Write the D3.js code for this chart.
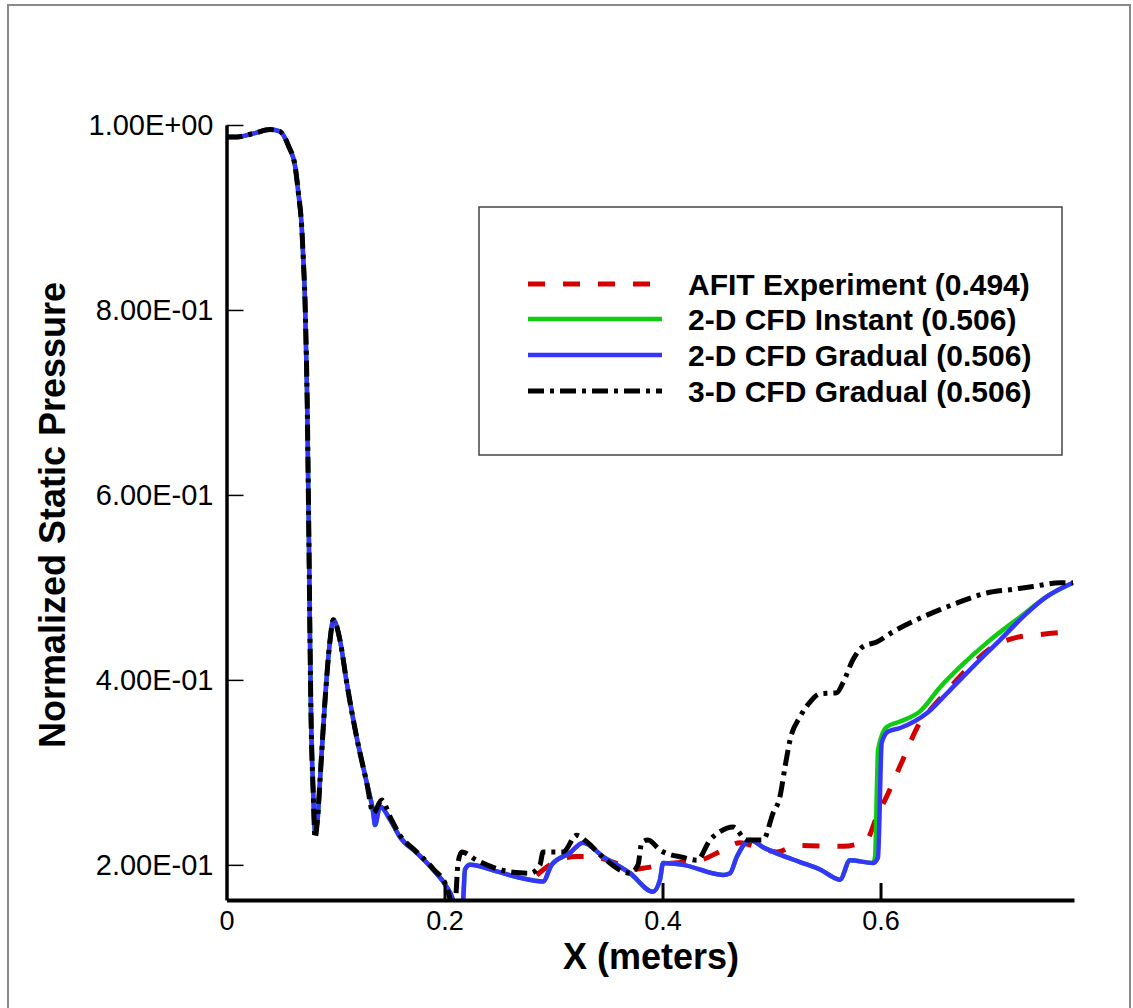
<!DOCTYPE html>
<html><head><meta charset="utf-8">
<script src="https://cdn.jsdelivr.net/npm/d3@7"></script>
<style>body{margin:0;background:#fff}svg{display:block}</style>
</head><body>
<svg id="c" width="1133" height="1008"></svg>
<script>
// ---- data ----
const yMajorTicks = [0.2, 0.4, 0.6, 0.8, 1.0];
const yMinorTicks = [0.25, 0.3, 0.35, 0.45, 0.5, 0.55, 0.65, 0.7, 0.75, 0.85, 0.9, 0.95];
const xMajorTicks = [0, 0.2, 0.4, 0.6];
const xMinorTicks = [0.05, 0.1, 0.15, 0.25, 0.3, 0.35, 0.45, 0.5, 0.55, 0.65, 0.7, 0.75];
const xTickLabels = ["0", "0.2", "0.4", "0.6"];

const seriesNames = ["AFIT Experiment (0.494)", "2-D CFD Instant (0.506)", "2-D CFD Gradual (0.506)", "3-D CFD Gradual (0.506)"];

// 2-D CFD (shared by Instant and Gradual up to x ~ 0.593)
const cfd2dX = [0, 0.009, 0.025, 0.040, 0.049, 0.057, 0.063, 0.066, 0.069, 0.0705, 0.072, 0.074, 0.0757, 0.0766, 0.0775, 0.0795, 0.0812, 0.0835, 0.0858, 0.0904, 0.095, 0.098, 0.1041, 0.1103, 0.1194, 0.1286, 0.1347, 0.1362, 0.1408, 0.150, 0.1592, 0.1745, 0.1894, 0.2020, 0.2078, 0.2096, 0.2130, 0.2170, 0.2188, 0.2234, 0.2479, 0.2693, 0.2904, 0.2983, 0.3151, 0.3271, 0.3454, 0.3702, 0.3913, 0.3977, 0.4005, 0.4188, 0.4555, 0.4619, 0.4683, 0.4803, 0.4922, 0.5078, 0.5261, 0.5445, 0.5628, 0.5720, 0.5931];
const cfd2dY = [0.987, 0.987, 0.991, 0.995, 0.993, 0.977, 0.955, 0.926, 0.890, 0.854, 0.811, 0.703, 0.541, 0.443, 0.364, 0.280, 0.236, 0.248, 0.292, 0.378, 0.443, 0.465, 0.443, 0.397, 0.338, 0.289, 0.256, 0.243, 0.263, 0.249, 0.230, 0.213, 0.195, 0.176, 0.162, 0.150, 0.150, 0.162, 0.195, 0.200, 0.193, 0.186, 0.182, 0.200, 0.213, 0.224, 0.209, 0.191, 0.171, 0.184, 0.202, 0.200, 0.189, 0.191, 0.209, 0.227, 0.219, 0.211, 0.203, 0.195, 0.184, 0.205, 0.202];
const instantTailX = [0.5950, 0.5968, 0.5977, 0.6057, 0.6179, 0.6362, 0.6546, 0.6729, 0.7004, 0.7280, 0.7525, 0.7766];
const instantTailY = [0.209, 0.289, 0.324, 0.349, 0.355, 0.366, 0.392, 0.414, 0.443, 0.468, 0.490, 0.505];
const gradualTailX = [0.5977, 0.6011, 0.6069, 0.6179, 0.6424, 0.6638, 0.6913, 0.7096, 0.7341, 0.7525, 0.7766];
const gradualTailY = [0.208, 0.332, 0.344, 0.348, 0.364, 0.389, 0.422, 0.443, 0.472, 0.490, 0.505];

// 3-D CFD Gradual
const cfd3dX = [0, 0.009, 0.025, 0.040, 0.049, 0.057, 0.063, 0.066, 0.069, 0.0705, 0.072, 0.074, 0.0757, 0.0766, 0.0775, 0.0795, 0.0812, 0.0835, 0.0858, 0.0904, 0.095, 0.098, 0.1041, 0.1103, 0.1194, 0.1286, 0.1347, 0.1424, 0.150, 0.1592, 0.1745, 0.1894, 0.2020, 0.2060, 0.2095, 0.2124, 0.2158, 0.2295, 0.2628, 0.2784, 0.2876, 0.2904, 0.3087, 0.3213, 0.3305, 0.3454, 0.3702, 0.3775, 0.3809, 0.3867, 0.3977, 0.4188, 0.4317, 0.4436, 0.4528, 0.4647, 0.4772, 0.4922, 0.5014, 0.5078, 0.5124, 0.5170, 0.5261, 0.5353, 0.5445, 0.5598, 0.5656, 0.5748, 0.5839, 0.5965, 0.6115, 0.6332, 0.6546, 0.6699, 0.6974, 0.7216, 0.7399, 0.7647, 0.7766];
const cfd3dY = [0.987, 0.987, 0.991, 0.995, 0.993, 0.977, 0.955, 0.926, 0.890, 0.854, 0.811, 0.703, 0.541, 0.443, 0.364, 0.280, 0.229, 0.250, 0.292, 0.378, 0.443, 0.465, 0.443, 0.397, 0.338, 0.289, 0.256, 0.270, 0.252, 0.232, 0.214, 0.196, 0.176, 0.160, 0.155, 0.202, 0.214, 0.205, 0.192, 0.191, 0.200, 0.214, 0.214, 0.232, 0.225, 0.208, 0.191, 0.200, 0.224, 0.227, 0.216, 0.208, 0.205, 0.227, 0.236, 0.241, 0.227, 0.227, 0.256, 0.274, 0.306, 0.335, 0.360, 0.376, 0.385, 0.386, 0.397, 0.422, 0.436, 0.441, 0.452, 0.465, 0.476, 0.483, 0.494, 0.498, 0.501, 0.505, 0.505];

// AFIT Experiment
const afitX = [0.2846, 0.2995, 0.3213, 0.3335, 0.3546, 0.3729, 0.3855, 0.4039, 0.4344, 0.4555, 0.4711, 0.4894, 0.5048, 0.5231, 0.5656, 0.5873, 0.5965, 0.6057, 0.6206, 0.6362, 0.6482, 0.6638, 0.6849, 0.7032, 0.7250, 0.7463, 0.7739];
const afitY = [0.189, 0.202, 0.209, 0.209, 0.203, 0.195, 0.197, 0.201, 0.205, 0.216, 0.224, 0.218, 0.214, 0.221, 0.220, 0.227, 0.252, 0.274, 0.314, 0.354, 0.371, 0.392, 0.418, 0.436, 0.446, 0.449, 0.452];

// ---- drawing ----
const svg = d3.select("#c");
const FONT = "'Liberation Sans', Arial, Helvetica, sans-serif";

// outer frame
svg.append("rect").attr("x", 8).attr("y", 5).attr("width", 1122).attr("height", 1010)
  .attr("fill", "none").attr("stroke", "#8a8a8a").attr("stroke-width", 2);

const x = d3.scaleLinear().domain([0, 0.7775]).range([226.5, 1074]);
const y = d3.scaleLinear().domain([0.162, 1.0]).range([900, 125]);

const zip = (xs, ys) => xs.map((v, i) => [v, ys[i]]);
const instant = zip(cfd2dX, cfd2dY).concat(zip(instantTailX, instantTailY));
const gradual = zip(cfd2dX, cfd2dY).concat(zip(gradualTailX, gradualTailY));
const threeD = zip(cfd3dX, cfd3dY);
const afit = zip(afitX, afitY);

svg.append("defs").append("clipPath").attr("id", "clip")
  .append("rect").attr("x", 226.5).attr("y", 100).attr("width", 860).attr("height", 800);

const line = d3.line().x(d => x(d[0])).y(d => y(d[1])).curve(d3.curveMonotoneX);
const plot = svg.append("g").attr("clip-path", "url(#clip)");

const styles = [
  {data: afit, color: "#d40000", width: 5, dash: "17,18"},
  {data: instant, color: "#10cc10", width: 4.5, dash: null},
  {data: gradual, color: "#3535ff", width: 4.5, dash: null},
  {data: threeD, color: "#000000", width: 5, dash: "16,6,4,6"}
];
styles.forEach(s => {
  plot.append("path").datum(s.data).attr("d", line)
    .attr("fill", "none").attr("stroke", s.color).attr("stroke-width", s.width)
    .attr("stroke-dasharray", s.dash).attr("stroke-linejoin", "round");
});

// axes
function sci(v) {
  const e = Math.floor(Math.log10(v) + 1e-9);
  const m = v / Math.pow(10, e);
  return m.toFixed(2) + "E" + (e < 0 ? "-" : "+") + String(Math.abs(e)).padStart(2, "0");
}

const gy = svg.append("g").attr("transform", "translate(226.5,0)");
gy.call(d3.axisLeft(y).tickValues(yMinorTicks).tickSize(-9).tickSizeOuter(0).tickFormat(""));
gy.call(d3.axisLeft(y).tickValues(yMajorTicks).tickSize(-17).tickSizeOuter(0).tickPadding(13).tickFormat(sci));
gy.selectAll(".domain").attr("stroke-width", 3.5).attr("stroke", "#000");
gy.selectAll(".tick line").attr("stroke-width", 1.5);
gy.selectAll(".tick text").attr("font-family", FONT).attr("font-size", 29).attr("fill", "#000");

const gx = svg.append("g").attr("transform", "translate(0,900)");
gx.call(d3.axisBottom(x).tickValues(xMinorTicks).tickSize(-9).tickSizeOuter(0).tickFormat(""));
gx.call(d3.axisBottom(x).tickValues(xMajorTicks).tickSize(-17).tickSizeOuter(0).tickPadding(11)
  .tickFormat((d, i) => xTickLabels[i]));
gx.selectAll(".domain").attr("stroke-width", 4).attr("stroke", "#000");
gx.selectAll(".tick line").attr("stroke-width", 1.5);
gx.selectAll(".tick text").attr("font-family", FONT).attr("font-size", 27).attr("fill", "#000");
gx.selectAll(".tick").filter(d => d > 0).select("line").attr("stroke-width", 3);

// axis titles
svg.append("text").attr("x", 651).attr("y", 969).attr("text-anchor", "middle")
  .attr("font-family", FONT).attr("font-weight", "bold").attr("font-size", 36).text("X (meters)");
svg.append("text").attr("transform", "translate(65,515) rotate(-90)").attr("text-anchor", "middle")
  .attr("font-family", FONT).attr("font-weight", "bold").attr("font-size", 36).text("Normalized Static Pressure");

// legend
const lg = svg.append("g");
lg.append("rect").attr("x", 479).attr("y", 207).attr("width", 583).attr("height", 248)
  .attr("fill", "#fff").attr("stroke", "#444").attr("stroke-width", 1.5);
const rowY = [284, 319, 355, 391];
styles.forEach((s, i) => {
  lg.append("line").attr("x1", 528).attr("x2", 662).attr("y1", rowY[i]).attr("y2", rowY[i])
    .attr("stroke", s.color).attr("stroke-width", s.width).attr("stroke-dasharray", s.dash);
  lg.append("text").attr("x", 688).attr("y", rowY[i] + 11)
    .attr("font-family", FONT).attr("font-weight", "bold").attr("font-size", 30).attr("fill", "#000")
    .text(seriesNames[i]);
});
</script>
</body></html>
